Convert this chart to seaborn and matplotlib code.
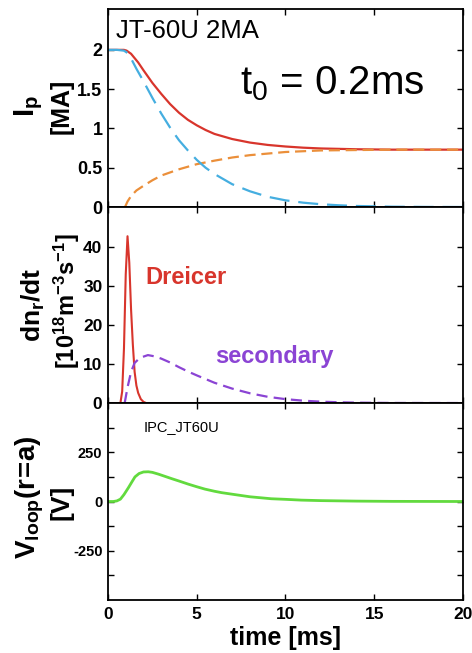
import numpy as np
import pandas as pd
import matplotlib
matplotlib.use("Agg")
import matplotlib.pyplot as plt
import seaborn as sns

# ---------------- data ----------------
t_total = [0, 0.5, 0.9, 1.05, 1.3, 1.7, 2.0, 2.5, 3.0, 3.5, 4.0, 4.5, 5.0, 5.5,
           6.0, 7.0, 8.0, 9.0, 10, 11, 12, 14, 16, 18, 20]
ip_total = [2.0, 2.0, 2.0, 1.99, 1.95, 1.84, 1.74, 1.58, 1.44, 1.31, 1.20, 1.11,
            1.04, 0.98, 0.93, 0.865, 0.82, 0.79, 0.77, 0.755, 0.745, 0.735, 0.73,
            0.73, 0.73]

t_thermal = [0, 0.5, 0.9, 1.1, 1.3, 1.6, 2.0, 2.5, 3.0, 3.5, 4.0, 4.5, 5.0, 5.5,
             6.0, 7.0, 8.0, 9.0, 10, 11, 12, 13, 14, 16, 18, 20]
ip_thermal = [2.0, 2.0, 1.99, 1.96, 1.89, 1.76, 1.60, 1.39, 1.19, 1.01, 0.85, 0.72,
              0.60, 0.50, 0.42, 0.29, 0.20, 0.13, 0.085, 0.055, 0.035, 0.022,
              0.013, 0.004, 0.001, 0.0]

t_runaway = [0.96, 1.1, 1.3, 1.6, 2.0, 2.5, 3.0, 3.5, 4.0, 5.0, 6.0, 7.0, 8.0,
             9.0, 10, 11, 12, 14, 16, 20]
ip_runaway = [0.0, 0.07, 0.14, 0.21, 0.27, 0.34, 0.40, 0.44, 0.48, 0.545, 0.59,
              0.63, 0.66, 0.68, 0.70, 0.71, 0.72, 0.725, 0.73, 0.73]

t_dreicer = [0, 0.7, 0.8, 0.9, 1.0, 1.1, 1.2, 1.3, 1.4, 1.5, 1.6, 1.7, 1.85,
             2.0, 2.15, 20]
dn_dreicer = [0, 0, 3, 14, 33, 42.8, 36, 24, 15, 8, 4.5, 2.6, 1.0, 0.3, 0, 0]

t_secondary = [0.94, 1.1, 1.3, 1.5, 1.8, 2.25, 2.6, 3.0, 3.5, 4.0, 4.5, 5.0, 6.0,
               7.0, 8.0, 9.0, 10, 11, 12, 13, 14, 16, 20]
dn_secondary = [0, 4, 8, 10.3, 11.6, 12.3, 12.0, 11.4, 10.4, 9.2, 8.1, 7.1, 5.2,
                3.7, 2.5, 1.6, 1.0, 0.6, 0.35, 0.2, 0.1, 0.02, 0]

t_vloop = [0, 0.3, 0.5, 0.7, 0.9, 1.15, 1.35, 1.52, 1.75, 2.0, 2.27, 2.5, 2.84,
           3.2, 3.59, 4.0, 4.53, 5.0, 5.46, 6.0, 6.4, 7.0, 8.0, 9.2, 10, 10.9,
           12, 14, 16, 20]
v_loop = [0, 0, 3, 12, 35, 70, 100, 125, 142, 150, 151, 148, 139, 128, 116, 104,
          88, 75, 63, 52, 45, 37, 24, 14, 11, 7, 4.5, 2, 0.7, 0]

x_ticks = [0, 5, 10, 15, 20]
ip_ticks = [0, 0.5, 1, 1.5, 2]
ip_ticklabels = ["0", "0.5", "1", "1.5", "2"]
dn_ticks = [0, 10, 20, 30, 40]
v_ticks = [-250, 0, 250]
v_minor = [-375, -125, 125, 375]

# ---------------- style ----------------
sns.set_style("ticks")
plt.rcParams["font.family"] = ["Liberation Sans", "DejaVu Sans"]
plt.rcParams["mathtext.fontset"] = "custom"
plt.rcParams["mathtext.rm"] = "Liberation Sans"
plt.rcParams["mathtext.bf"] = "Liberation Sans:bold"
plt.rcParams["mathtext.it"] = "Liberation Sans:italic"
plt.rcParams["axes.unicode_minus"] = False
for k in ("text.color", "axes.labelcolor", "xtick.color", "ytick.color",
          "axes.edgecolor"):
    plt.rcParams[k] = "black"

RED = "#d8352c"
BLUE = "#45aee0"
ORANGE = "#eb8f3a"
PURPLE = "#8b44d4"
GREEN = "#62da3e"

fig = plt.figure(figsize=(4.72, 6.53), dpi=100)
L, W = 0.2288, 0.752
ax1 = fig.add_axes([L, 0.683, W, 0.3032])
ax2 = fig.add_axes([L, 0.3828, W, 0.3002])
ax3 = fig.add_axes([L, 0.0812, W, 0.3016])


def style_axis(ax):
    for s in ax.spines.values():
        s.set_linewidth(1.3)
        s.set_color("black")
        s.set_visible(True)
    ax.tick_params(which="both", direction="in", top=True, right=True,
                   length=4, width=1.0, color="black", labelcolor="black", pad=4)
    ax.tick_params(which="minor", length=4)
    ax.set_xlim(0, 20)
    ax.set_xticks(x_ticks)
    ax.set_xlabel("")
    ax.set_ylabel("")


# ---- Panel 1: plasma current ----
sns.lineplot(x=t_total, y=ip_total, ax=ax1, color=RED, linewidth=1.6)
sns.lineplot(x=t_runaway, y=ip_runaway, ax=ax1, color=ORANGE, linewidth=1.6)
ax1.lines[-1].set_dashes([5, 2.6])
sns.lineplot(x=t_thermal, y=ip_thermal, ax=ax1, color=BLUE, linewidth=1.6)
ax1.lines[-1].set_dashes([9, 4])
style_axis(ax1)
ax1.set_ylim(0, 2.52)
ax1.set_yticks(ip_ticks)
ax1.set_yticklabels(ip_ticklabels)
ax1.tick_params(axis="x", labelbottom=False)
ax1.tick_params(axis="y", labelsize=13)
ax1.text(0.45, 2.15, "JT-60U 2MA", fontsize=18.5, va="baseline", ha="left")
ax1.text(7.44, 1.43, r"t$_0$ = 0.2ms", fontsize=29, va="baseline", ha="left")
ax1.text(-0.223, 0.51, r"$\mathbf{I_p}$", transform=ax1.transAxes, rotation=90,
         ha="center", va="center", fontsize=21)
ax1.text(-0.130, 0.51, "[MA]", transform=ax1.transAxes, rotation=90,
         ha="center", va="center", fontsize=18, fontweight="bold")

# ---- Panel 2: runaway generation rate ----
sns.lineplot(x=t_dreicer, y=dn_dreicer, ax=ax2, color=RED, linewidth=1.5)
sns.lineplot(x=t_secondary, y=dn_secondary, ax=ax2, color=PURPLE, linewidth=1.6)
ax2.lines[-1].set_dashes([5, 2.8])
style_axis(ax2)
ax2.set_ylim(0, 50.3)
ax2.set_yticks(dn_ticks)
ax2.tick_params(axis="x", labelbottom=False)
ax2.tick_params(axis="y", labelsize=12.5)
ax2.text(2.08, 30.5, "Dreicer", color=RED, fontsize=17, fontweight="bold",
         va="baseline", ha="left")
ax2.text(6.03, 10.2, "secondary", color=PURPLE, fontsize=17, fontweight="bold",
         va="baseline", ha="left")
ax2.text(-0.211, 0.50, r"$\mathbf{dn_r/dt}$", transform=ax2.transAxes,
         rotation=90, ha="center", va="center", fontsize=19)
ax2.text(-0.115, 0.52, r"$\mathbf{[10^{18}m^{-3}s^{-1}]}$", transform=ax2.transAxes,
         rotation=90, ha="center", va="center", fontsize=17)

# ---- Panel 3: loop voltage ----
sns.lineplot(x=t_vloop, y=v_loop, ax=ax3, color=GREEN, linewidth=2.0)
style_axis(ax3)
ax3.set_ylim(-500, 500)
ax3.set_yticks(v_ticks)
ax3.set_yticks(v_minor, minor=True)
ax3.tick_params(axis="y", labelsize=10.5)
ax3.tick_params(axis="x", labelsize=12.5, pad=5)
ax3.set_xlabel("time [ms]", fontsize=18, fontweight="bold", labelpad=3)
ax3.text(2.03, 356, "IPC_JT60U", fontsize=10.5, va="baseline", ha="left")
ax3.text(-0.22, 0.523, r"$\mathbf{V_{loop}(r\!=\!a)}$", transform=ax3.transAxes,
         rotation=90, ha="center", va="center", fontsize=20)
ax3.text(-0.131, 0.497, "[V]", transform=ax3.transAxes, rotation=90,
         ha="center", va="center", fontsize=19, fontweight="bold")

for ax in (ax1, ax2, ax3):
    for lab in ax.get_yticklabels() + ax.get_xticklabels():
        lab.set_fontweight("bold")
        lab.set_color("black")

fig.savefig("out.png", dpi=100)
